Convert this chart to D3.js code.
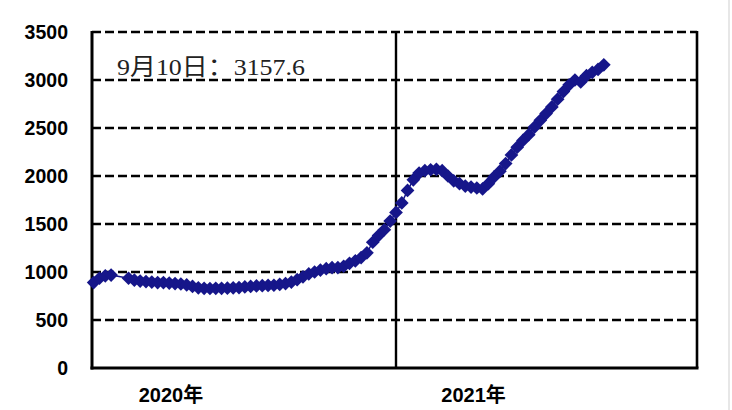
<!DOCTYPE html>
<html><head><meta charset="utf-8">
<script src="https://cdn.jsdelivr.net/npm/d3@7"></script>
<style>html,body{margin:0;padding:0;background:#fff;}svg{display:block;}</style>
</head><body>
<svg id="c" width="732" height="410"></svg>
<script>
const dates = ["2020-01-03","2020-01-10","2020-01-17","2020-01-24",
"2020-02-14","2020-02-21","2020-02-28","2020-03-06","2020-03-13","2020-03-20","2020-03-27",
"2020-04-03","2020-04-10","2020-04-17","2020-04-24","2020-05-01","2020-05-08","2020-05-15","2020-05-22","2020-05-29",
"2020-06-05","2020-06-12","2020-06-19","2020-06-26","2020-07-03","2020-07-10","2020-07-17","2020-07-24","2020-07-31",
"2020-08-07","2020-08-14","2020-08-21","2020-08-28","2020-09-04","2020-09-11","2020-09-18","2020-09-25",
"2020-10-02","2020-10-09","2020-10-16","2020-10-23","2020-10-30","2020-11-06","2020-11-13","2020-11-20","2020-11-27",
"2020-12-04","2020-12-11","2020-12-18","2020-12-25",
"2021-01-01","2021-01-08","2021-01-15","2021-01-22","2021-01-29","2021-02-05","2021-02-12","2021-02-19","2021-02-26",
"2021-03-05","2021-03-12","2021-03-19","2021-03-26","2021-04-02","2021-04-09","2021-04-16","2021-04-23","2021-04-30",
"2021-05-07","2021-05-14","2021-05-21","2021-05-28","2021-06-04","2021-06-11","2021-06-18","2021-06-25",
"2021-07-02","2021-07-09","2021-07-16","2021-07-23","2021-07-30","2021-08-06","2021-08-13","2021-08-20","2021-08-27",
"2021-09-03","2021-09-10"];
const values = [890,935,960,968,
935,915,905,900,895,890,890,
885,880,875,865,850,835,830,828,830,
830,832,835,838,845,850,855,858,860,
862,870,880,895,920,950,980,1000,
1020,1035,1045,1045,1060,1090,1115,1150,1200,
1310,1380,1440,1530,
1620,1720,1850,1960,2030,2055,2065,2070,2055,
2000,1950,1920,1895,1885,1875,1865,1920,1990,
2050,2130,2220,2300,2370,2430,2510,2580,
2650,2720,2800,2880,2950,3000,2980,3045,3080,
3110,3157.6];
const yTicks = [0,500,1000,1500,2000,2500,3000,3500];
const yearLabels = ["2020年","2021年"];
const yearLabelDates = ["2020-04-05","2021-04-05"];
const yearBounds = ["2020-01-01","2021-01-01","2022-01-01"];
const annotation = "9月10日：3157.6";

const parse = d3.timeParse("%Y-%m-%d");
const svg = d3.select("#c");
const L = 92, R = 697, T = 32, B = 368, MID = 396;
const x = d3.scaleTime().domain(yearBounds.map(parse)).range([L, MID, R]);
const y = d3.scaleLinear().domain([0, 3500]).range([B, T]);
const navy = "#16168a";

// faint frame line at right edge
svg.append("line").attr("x1",729).attr("x2",729).attr("y1",0).attr("y2",410)
  .attr("stroke","#cfcfcf").attr("stroke-width",1);

// dashed gridlines
svg.append("g").selectAll("line").data(yTicks.filter(v=>v>0)).join("line")
  .attr("x1",L).attr("x2",R).attr("y1",d=>y(d)).attr("y2",d=>y(d))
  .attr("stroke","#000").attr("stroke-width",2.6).attr("stroke-dasharray","9,4");

// y axis
const yAxis = d3.axisLeft(y).tickValues(yTicks).tickFormat(d3.format("d")).tickSize(0).tickPadding(24);
const gy = svg.append("g").attr("transform",`translate(${L},0)`).call(yAxis);
gy.select(".domain").remove();
gy.selectAll("text").attr("font-family","'Liberation Sans',Arial,sans-serif")
  .attr("font-weight","bold").attr("font-size",19.5).attr("fill","#000");

// frame lines
svg.append("line").attr("x1",L).attr("x2",L).attr("y1",T-1).attr("y2",B+1.5)
  .attr("stroke","#000").attr("stroke-width",3);
svg.append("line").attr("x1",L-1.5).attr("x2",R+1.5).attr("y1",B).attr("y2",B)
  .attr("stroke","#000").attr("stroke-width",3);
svg.append("line").attr("x1",R).attr("x2",R).attr("y1",T-1).attr("y2",B)
  .attr("stroke","#000").attr("stroke-width",2.6);
svg.append("line").attr("x1",x(parse(yearBounds[1]))).attr("x2",x(parse(yearBounds[1])))
  .attr("y1",T).attr("y2",B).attr("stroke","#000").attr("stroke-width",2.4);

// x labels
svg.append("g").selectAll("text").data(yearLabels).join("text")
  .attr("x",(d,i)=>x(parse(yearLabelDates[i]))).attr("y",402)
  .attr("text-anchor","middle")
  .attr("font-family","'Liberation Sans',Arial,'Noto Sans CJK SC',sans-serif")
  .attr("font-weight","bold").attr("font-size",20).attr("fill","#000").text(d=>d);

// data
const pts = dates.map((d,i)=>({d:parse(d), v:values[i]}));
svg.append("path").datum(pts)
  .attr("d", d3.line().x(p=>x(p.d)).y(p=>y(p.v)))
  .attr("fill","none").attr("stroke",navy).attr("stroke-width",1.5);
svg.append("g").selectAll("path").data(pts).join("path")
  .attr("transform",p=>`translate(${x(p.d)},${y(p.v)})`)
  .attr("d", d3.symbol(d3.symbolDiamond2, 120)())
  .attr("fill",navy);

// annotation
svg.append("text").attr("x",117).attr("y",75)
  .attr("font-family","'Liberation Serif','Noto Sans CJK SC',serif")
  .attr("font-size",24).attr("fill","#222")
  .attr("textLength",188).attr("lengthAdjust","spacingAndGlyphs")
  .text(annotation);
</script>
</body></html>
